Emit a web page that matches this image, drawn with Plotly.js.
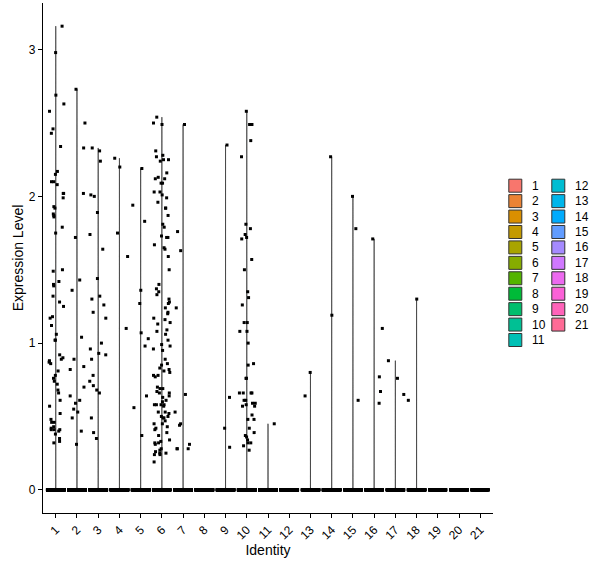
<!DOCTYPE html>
<html>
<head>
<meta charset="utf-8">
<script src="https://cdn.plot.ly/plotly-3.0.1.min.js"></script>
<style>
html,body{margin:0;padding:0;background:#fff;}
#chart{width:600px;height:568px;}
</style>
</head>
<body>
<div id="chart"></div>
<script>
// ---------- data ----------
const clusterLabels = ['1','2','3','4','5','6','7','8','9','10','11','12','13','14','15','16','17','18','19','20','21'];

// non-zero expression values per identity
const expr1 = [3.16,2.98,2.69,2.63,2.58,2.46,2.43,2.34,2.17,2.15,2.10,2.10,2.08,2.02,2.02,1.99,1.93,1.92,1.88,1.87,1.86,1.79,1.75,1.50,1.49,1.42,1.40,1.39,1.32,1.28,1.25,1.18,1.17,1.12,1.06,1.02,1.02,0.92,0.90,0.89,0.88,0.87,0.86,0.81,0.78,0.76,0.74,0.72,0.68,0.66,0.61,0.57,0.52,0.48,0.46,0.46,0.43,0.42,0.41,0.41,0.40,0.41,0.38,0.35,0.33,0.32];
const expr2 = [2.73,2.50,2.33,2.02,1.72,1.43,1.36,1.04,0.89,0.84,0.82,0.70,0.64,0.61,0.59,0.55,0.53,0.49,0.40,0.31];
const expr3 = [2.33,2.31,2.24,2.01,2.00,1.89,1.74,1.64,1.44,1.32,1.30,1.26,1.21,1.17,1.00,0.96,0.93,0.92,0.89,0.78,0.74,0.71,0.68,0.66,0.49,0.39,0.35];
const expr4 = [2.26,2.20,1.75,1.59,1.10];
const expr5 = [2.19,1.94,1.83,1.36,1.27,1.07,1.03,0.98,0.64,0.56,0.37];
const expr6 = [2.54,2.50,2.49,2.31,2.28,2.27,2.25,2.25,2.24,2.16,2.13,2.12,2.12,2.09,2.09,2.03,2.03,2.01,1.99,1.96,1.92,1.92,1.87,1.81,1.79,1.73,1.72,1.72,1.67,1.65,1.64,1.59,1.50,1.40,1.37,1.35,1.33,1.30,1.28,1.27,1.24,1.21,1.20,1.17,1.16,1.14,1.13,1.09,1.08,1.06,1.02,0.99,0.98,0.96,0.95,0.89,0.86,0.85,0.83,0.82,0.81,0.80,0.78,0.78,0.77,0.70,0.69,0.69,0.67,0.66,0.66,0.64,0.63,0.61,0.60,0.58,0.58,0.58,0.57,0.58,0.53,0.53,0.52,0.50,0.50,0.49,0.49,0.47,0.45,0.45,0.43,0.42,0.41,0.39,0.37,0.34,0.33,0.32,0.32,0.31,0.28,0.27,0.26,0.25,0.25,0.24,0.24,0.19];
const expr7 = [2.49,1.76,1.63,1.24,0.65,0.53,0.45,0.44,0.31,0.28,0.28,0.28];
const expr8 = [];
const expr9 = [2.35,0.63,0.42,0.29];
const expr10 = [2.58,2.49,2.49,2.38,2.27,1.81,1.78,1.74,1.72,1.71,1.57,1.50,1.35,1.31,1.26,1.14,1.14,1.08,1.08,1.00,0.86,0.85,0.76,0.76,0.66,0.66,0.66,0.66,0.61,0.61,0.59,0.59,0.58,0.57,0.57,0.51,0.48,0.48,0.42,0.39,0.37,0.36,0.34,0.32,0.32,0.30,0.27];
const expr11 = [0.45];
const expr12 = [];
const expr13 = [0.80,0.64];
const expr14 = [2.27,1.19];
const expr15 = [2.00,1.78,0.61];
const expr16 = [1.71,1.10,0.77,0.67,0.59];
const expr17 = [0.88,0.76,0.65];
const expr18 = [1.30,0.61];
const expr19 = [];
const expr20 = [];
const expr21 = [];

// number of cells with zero expression in each identity (estimated)
const zeroCellCounts = [420,380,360,330,320,400,300,280,270,330,250,240,220,210,200,190,180,170,150,130,110];

const yTicks = [0,1,2,3];
const xTitle = 'Identity';
const yTitle = 'Expression Level';

// ---------- build ----------
const exprByCluster = [expr1,expr2,expr3,expr4,expr5,expr6,expr7,expr8,expr9,expr10,expr11,expr12,expr13,expr14,expr15,expr16,expr17,expr18,expr19,expr20,expr21];
const nC = clusterLabels.length;

// ggplot2 default hue palette (hcl, c=100, l=65)
function hcl2hex(h, c, l) {
  const hr = h * Math.PI / 180;
  const U = c * Math.cos(hr), V = c * Math.sin(hr);
  const Xn = 95.047, Yn = 100.0, Zn = 108.883;
  const Y = l > 8 ? Yn * Math.pow((l + 16) / 116, 3) : Yn * l / 903.3;
  const t = Xn + 15 * Yn + 3 * Zn;
  const un = 4 * Xn / t, vn = 9 * Yn / t;
  const up = U / (13 * l) + un, vp = V / (13 * l) + vn;
  const X = 9 * Y * up / (4 * vp);
  const Z = -X / 3 - 5 * Y + 3 * Y / vp;
  const x = X / 100, y = Y / 100, z = Z / 100;
  let r = 3.240479 * x - 1.537150 * y - 0.498535 * z;
  let g = -0.969256 * x + 1.875992 * y + 0.041556 * z;
  let b = 0.055648 * x - 0.204043 * y + 1.057311 * z;
  const gam = v => { v = v <= 0.0031308 ? 12.92 * v : 1.055 * Math.pow(v, 1 / 2.4) - 0.055; return Math.round(Math.min(1, Math.max(0, v)) * 255); };
  return '#' + [gam(r), gam(g), gam(b)].map(v => v.toString(16).padStart(2, '0')).join('');
}
const colors = clusterLabels.map((_, i) => hcl2hex(15 + 360 * i / nC, 100, 65));

// deterministic jitter generator
function mulberry32(a) {
  return function () {
    a |= 0; a = a + 0x6D2B79F5 | 0;
    let t = Math.imul(a ^ a >>> 15, 1 | a);
    t = t + Math.imul(t ^ t >>> 7, 61 | t) ^ t;
    return ((t ^ t >>> 14) >>> 0) / 4294967296;
  };
}
const rnd = mulberry32(20240607);

const traces = [];
const ptsX = [], ptsY = [];
let yMax = 0;

exprByCluster.forEach((vals, i) => {
  const pos = i + 1;
  const zeros = new Array(zeroCellCounts[i]).fill(0);
  const all = zeros.concat(vals);
  all.forEach(v => { yMax = Math.max(yMax, v); });
  if (vals.length > 0) {
    traces.push({
      type: 'violin',
      x: all.map(() => pos),
      y: all,
      name: clusterLabels[i],
      width: 0.9,
      spanmode: 'hard',
      bandwidth: 0.004,
      scalemode: 'width',
      points: false,
      box: {visible: false},
      meanline: {visible: false},
      fillcolor: colors[i],
      line: {color: '#000000', width: 0.6},
      showlegend: false,
      hoverinfo: 'skip',
      xaxis: 'x', yaxis: 'y'
    });
  }
  all.forEach(v => {
    ptsX.push(pos + (rnd() - 0.5) * 0.8);
    ptsY.push(v);
  });
});

traces.push({
  type: 'scatter',
  mode: 'markers',
  x: ptsX, y: ptsY,
  marker: {color: '#000000', size: 3, symbol: 'square', line: {width: 0}},
  showlegend: false,
  hoverinfo: 'skip',
  cliponaxis: false,
  xaxis: 'x', yaxis: 'y'
});

// ---------- legend (two columns, column-major, drawn on a helper axis in pixel units) ----------
const plotL = 43, plotR = 600, plotT = 3, plotB = 513;
const mainW = 450; // pixel width of the panel
const legDomainStart = 0.81;
const legX0 = plotL + legDomainStart * (plotR - plotL);
const rowsPerCol = Math.ceil(nC / 2);
const legTopRow = 185.7, legRowStep = 15.43;
const legColX = [515.3, 558.3];
const legKeyX = [], legKeyY = [];
const annotations = [];
clusterLabels.forEach((lab, i) => {
  const col = Math.floor(i / rowsPerCol), row = i % rowsPerCol;
  const kx = legColX[col], ky = legTopRow + row * legRowStep;
  legKeyX.push(kx); legKeyY.push(ky);
  annotations.push({
    xref: 'x2', yref: 'y2', x: kx + 15, y: ky,
    text: lab, showarrow: false, xanchor: 'left', yanchor: 'middle',
    font: {family: 'Liberation Sans, Arial, sans-serif', size: 12, color: '#000'}
  });
});
traces.push({
  type: 'scatter', mode: 'markers',
  x: legKeyX, y: legKeyY,
  marker: {symbol: 'square', size: 13, color: colors, line: {color: '#333333', width: 1}},
  showlegend: false, hoverinfo: 'skip', cliponaxis: false,
  xaxis: 'x2', yaxis: 'y2'
});

const pad = 0.05 * yMax;
const layout = {
  width: 600, height: 568,
  paper_bgcolor: '#ffffff', plot_bgcolor: '#ffffff',
  margin: {l: plotL, r: 0, t: plotT, b: 568 - plotB, pad: 0},
  showlegend: false,
  violinmode: 'overlay',
  font: {family: 'Liberation Sans, Arial, sans-serif', size: 12, color: '#000'},
  xaxis: {
    domain: [0, mainW / (plotR - plotL)],
    range: [0.4, nC + 0.6],
    tickmode: 'array',
    tickvals: clusterLabels.map((_, i) => i + 1),
    ticktext: clusterLabels,
    tickangle: -45,
    ticks: 'outside', ticklen: 4, tickwidth: 1, tickcolor: '#000',
    showline: true, linecolor: '#000', linewidth: 1.2,
    showgrid: false, zeroline: false,
    tickfont: {size: 12, color: '#000'},
    title: {text: xTitle, font: {size: 14, color: '#000'}, standoff: 3},
    fixedrange: true
  },
  yaxis: {
    range: [-pad, yMax + pad],
    tickmode: 'array', tickvals: yTicks, ticktext: yTicks.map(String),
    ticks: 'outside', ticklen: 4, tickwidth: 1, tickcolor: '#000',
    showline: true, linecolor: '#000', linewidth: 1.2,
    showgrid: false, zeroline: false,
    tickfont: {size: 12, color: '#000'},
    title: {text: yTitle, font: {size: 14, color: '#000'}, standoff: 1},
    fixedrange: true
  },
  xaxis2: {domain: [legDomainStart, 1], range: [legX0, plotR], visible: false, anchor: 'y2', fixedrange: true},
  yaxis2: {domain: [0, 1], range: [plotB, plotT], visible: false, anchor: 'x2', fixedrange: true},
  annotations: annotations
};

Plotly.newPlot('chart', traces, layout, {staticPlot: true, displayModeBar: false});
</script>
</body>
</html>
